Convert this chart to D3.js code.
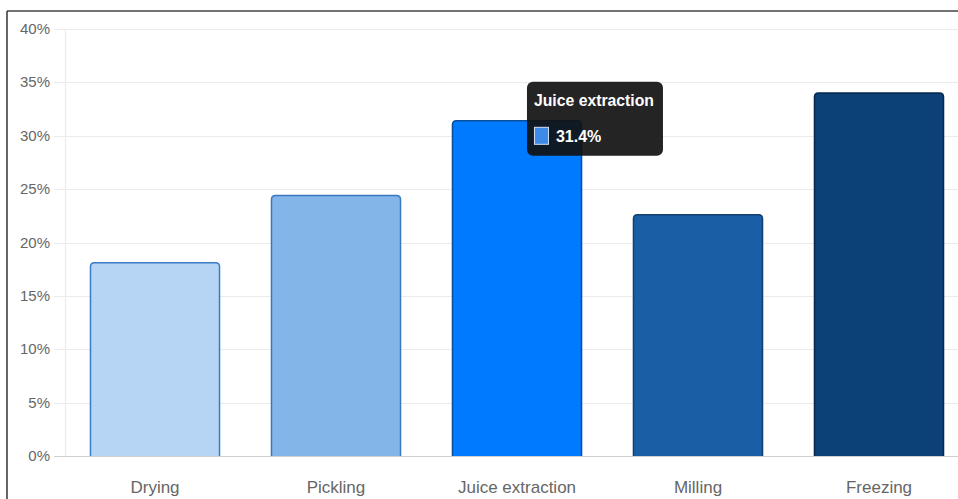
<!DOCTYPE html>
<html>
<head>
<meta charset="utf-8">
<script src="https://cdn.jsdelivr.net/npm/d3@7"></script>
<style>
html,body{margin:0;padding:0;background:#fff;}
svg{display:block;font-family:"Liberation Sans",Arial,sans-serif;}
</style>
</head>
<body>
<svg id="chart" width="958" height="499"></svg>
<script>
const categories = ["Drying", "Pickling", "Juice extraction", "Milling", "Freezing"];
const values = [18.1, 24.4, 31.4, 22.6, 34.0];
const yTicks = [0, 5, 10, 15, 20, 25, 30, 35, 40];
const fills = ["#b6d4f3", "#84b5e8", "#007bff", "#1a5ea6", "#0c4177"];
const strokes = ["#3b7cc7", "#3a78c0", "#0a4e9c", "#133f70", "#07284c"];
const tooltipCategory = "Juice extraction";

(function () {
const svg = d3.select("#chart");
const W = 958, H = 499;
const mLeft = 64, mTop = 29, mBottom = 456;

const x = d3.scaleBand().domain(categories).range([mLeft, 969]).paddingInner(0.287).paddingOuter(0.1435);
const y = d3.scaleLinear().domain([0, 40]).range([mBottom, mTop]);

// frame
svg.append("line").attr("x1", 7).attr("x2", 7).attr("y1", 11).attr("y2", H).attr("stroke", "#333").attr("stroke-width", 1.5);
svg.append("line").attr("x1", 7).attr("x2", W).attr("y1", 11).attr("y2", 11).attr("stroke", "#444").attr("stroke-width", 1.5);

// gridlines
const g = svg.append("g");
g.selectAll("line.grid").data(yTicks).enter().append("line")
  .attr("x1", 54).attr("x2", W)
  .attr("y1", d => Math.round(y(d)) + 0.5).attr("y2", d => Math.round(y(d)) + 0.5)
  .attr("stroke", d => d === 0 ? "#cfcfcf" : "#ebebeb").attr("stroke-width", 1.2);
g.append("line").attr("x1", mLeft + 1.5).attr("x2", mLeft + 1.5).attr("y1", mTop).attr("y2", mBottom)
  .attr("stroke", "#ebebeb").attr("stroke-width", 1.2);

// y labels
g.selectAll("text.yl").data(yTicks).enter().append("text")
  .attr("x", 50).attr("y", d => y(d) + 5)
  .attr("text-anchor", "end").attr("fill", "#666").attr("font-size", 15)
  .text(d => d + "%");

// bars with rounded top corners
function barPath(x0, y0, w, h, r) {
  return `M${x0},${y0 + h} L${x0},${y0 + r} Q${x0},${y0} ${x0 + r},${y0} L${x0 + w - r},${y0} Q${x0 + w},${y0} ${x0 + w},${y0 + r} L${x0 + w},${y0 + h}`;
}
svg.selectAll("path.bar").data(categories).enter().append("path")
  .attr("d", (c, i) => barPath(x(c) + 0.5, y(values[i]), x.bandwidth(), mBottom - y(values[i]), 4))
  .attr("fill", (c, i) => fills[i]).attr("stroke", (c, i) => strokes[i]).attr("stroke-width", 1.5);

// x labels
svg.selectAll("text.xl").data(categories).enter().append("text")
  .attr("x", c => x(c) + x.bandwidth() / 2 + 0.5).attr("y", 493)
  .attr("text-anchor", "middle").attr("fill", "#666").attr("font-size", 17)
  .text(c => c);

// tooltip
const ti = categories.indexOf(tooltipCategory);
const tx = x(tooltipCategory) + 75, ty = y(values[ti]) - 39;
const tt = svg.append("g").attr("transform", `translate(${tx},${ty})`);
tt.append("rect").attr("width", 136).attr("height", 74).attr("rx", 6).attr("fill", "#111").attr("opacity", 0.92);
tt.append("text").attr("x", 7).attr("y", 24).attr("fill", "#fff").attr("font-weight", "bold").attr("font-size", 16)
  .attr("textLength", 120).attr("lengthAdjust", "spacingAndGlyphs")
  .text(tooltipCategory);
tt.append("rect").attr("x", 7.5).attr("y", 45.5).attr("width", 14).attr("height", 17)
  .attr("fill", "#3d8be6").attr("stroke", "#cfe0f5").attr("stroke-width", 1);
tt.append("text").attr("x", 29).attr("y", 60).attr("fill", "#fff").attr("font-weight", "bold").attr("font-size", 16)
  .text(values[ti].toFixed(1) + "%");
})();
</script>
</body>
</html>
